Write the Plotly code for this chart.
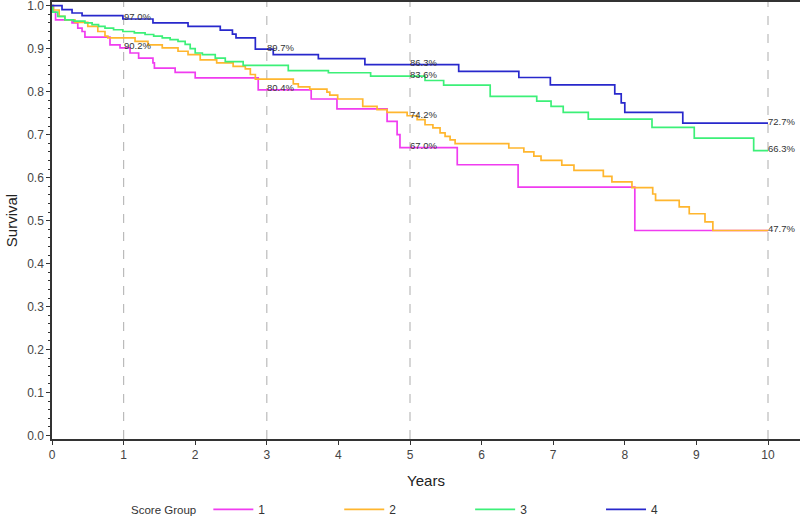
import plotly.graph_objects as go

# ---- data ----
groups = ["1", "2", "3", "4"]
colors = ["#F03CF0", "#FFB62E", "#3CF078", "#2828CC"]

g1_t = [0, 0.02, 0.05, 0.28, 0.36, 0.42, 0.46, 0.81, 0.95, 1.09, 1.21, 1.41, 1.43, 1.72, 2.0, 2.88,
        3.62, 3.98, 4.68, 4.82, 4.86, 5.66, 6.51, 8.14, 10.0]
g1_s = [1.0, 0.985, 0.967, 0.96, 0.948, 0.94, 0.927, 0.909, 0.902, 0.89, 0.878, 0.867, 0.855, 0.845, 0.832, 0.804,
        0.783, 0.76, 0.731, 0.70, 0.670, 0.63, 0.578, 0.477, 0.477]

g2_t = [0, 0.02, 0.1, 0.18, 0.32, 0.5, 0.64, 0.74, 0.78, 1.16, 1.34, 1.54, 1.76, 1.9, 2.07, 2.3, 2.53, 2.7,
        2.77, 2.84, 3.37, 3.44, 3.6, 3.84, 3.88, 3.99, 4.34, 4.54, 4.68, 4.96, 5.1, 5.21, 5.32, 5.42, 5.49,
        5.56, 5.63, 6.38, 6.59, 6.73, 6.83, 7.12, 7.29, 7.7, 7.82, 8.1, 8.39, 8.43, 8.76, 8.9, 9.12, 9.23, 10.0]
g2_s = [1.0, 0.99, 0.975, 0.967, 0.961, 0.952, 0.94, 0.929, 0.925, 0.917, 0.909, 0.902, 0.894, 0.886, 0.874,
        0.867, 0.859, 0.853, 0.84, 0.829, 0.818, 0.811, 0.806, 0.799, 0.792, 0.783, 0.766, 0.758, 0.752, 0.744,
        0.735, 0.723, 0.716, 0.704, 0.696, 0.688, 0.679, 0.669, 0.66, 0.65, 0.64, 0.629, 0.617, 0.603, 0.59,
        0.577, 0.562, 0.547, 0.532, 0.516, 0.497, 0.477, 0.477]

g3_t = [0, 0.01, 0.08, 0.18, 0.3, 0.46, 0.56, 0.65, 0.74, 0.86, 0.99, 1.15, 1.3, 1.42, 1.54, 1.65, 1.76, 1.86,
        1.93, 2.0, 2.1, 2.28, 2.42, 2.67, 3.3, 3.86, 4.45, 5.21, 5.47, 6.12, 6.77, 6.97, 7.14, 7.49, 8.38, 8.97,
        9.8, 10.0]
g3_s = [1.0, 0.985, 0.975, 0.967, 0.964, 0.96, 0.956, 0.952, 0.948, 0.944, 0.94, 0.937, 0.933, 0.929, 0.925,
        0.921, 0.917, 0.91, 0.9, 0.89, 0.886, 0.878, 0.87, 0.861, 0.849, 0.844, 0.836, 0.826, 0.815, 0.789,
        0.778, 0.766, 0.752, 0.736, 0.717, 0.692, 0.663, 0.663]

g4_t = [0, 0.14, 0.28, 0.42, 0.99, 1.41, 1.9, 2.35, 2.52, 2.57, 2.84, 3.09, 3.72, 4.37, 5.68, 6.52, 6.96,
        7.86, 7.95, 8.0, 8.81, 10.0]
g4_s = [1.0, 0.991, 0.983, 0.977, 0.969, 0.96, 0.952, 0.943, 0.934, 0.925, 0.899, 0.886, 0.877, 0.863,
        0.847, 0.833, 0.816, 0.795, 0.774, 0.752, 0.727, 0.727]

series_t = [g1_t, g2_t, g3_t, g4_t]
series_s = [g1_s, g2_s, g3_s, g4_s]

# landmark labels
label_t = [1, 3, 5, 10, 1, 3, 5, 10, 5, 10, 5]
label_v = [0.970, 0.897, 0.863, 0.727, 0.902, 0.804, 0.670, 0.477, 0.836, 0.663, 0.742]

legend_title = "Score Group"
ref_years = [1, 3, 5, 10]
x_ticks = list(range(0, 11))
y_ticks = [round(i * 0.1, 1) for i in range(0, 11)]

FONT = "Liberation Sans, Arial, sans-serif"

fig = go.Figure()
for name, col, t, s in zip(groups, colors, series_t, series_s):
    fig.add_trace(go.Scatter(x=t, y=s, mode="lines", name=name,
                             line=dict(color=col, width=1.7, shape="hv")))

for yr in ref_years:
    fig.add_shape(type="line", x0=yr, x1=yr, y0=0, y1=1, xref="x", yref="paper",
                  line=dict(color="#BBBBBB", width=1.2, dash="dash"), layer="below")

for t, v in zip(label_t, label_v):
    fig.add_annotation(x=t, y=v, text=f"{v*100:.1f}%", showarrow=False, xanchor="left",
                       yanchor="middle", xshift=-2, yshift=2,
                       font=dict(size=9.5, color="#333333", family=FONT))

# legend title placed beside the horizontal legend row
fig.add_annotation(x=0.103, y=-0.162, xref="paper", yref="paper", text=legend_title,
                   showarrow=False, xanchor="left", yanchor="middle",
                   font=dict(size=11.5, color="#333333", family=FONT))

fig.update_layout(
    width=800, height=525,
    margin=dict(l=52, r=0, t=2, b=86, autoexpand=False),
    paper_bgcolor="white", plot_bgcolor="white",
    font=dict(family=FONT, color="#333333"),
    showlegend=True,
    legend=dict(orientation="h", x=0.209, y=-0.161, xanchor="left", yanchor="middle",
                font=dict(size=12), entrywidth=0.175, entrywidthmode="fraction", itemwidth=40),
    xaxis=dict(range=[0, 10.447], tickvals=x_ticks, ticks="outside", ticklen=4, tickwidth=1,
               tickcolor="#333333", showline=True, linecolor="#333333", linewidth=1.5,
               mirror=True, showgrid=False, zeroline=False, automargin=False,
               tickfont=dict(size=12, color="#444444"),
               title=dict(text="Years", font=dict(size=15, color="#222222"), standoff=14)),
    yaxis=dict(range=[-0.008, 1.0086], tickvals=y_ticks, tickformat=".1f", ticks="outside",
               ticklen=4, tickwidth=1, tickcolor="#333333", showline=True, linecolor="#333333",
               linewidth=1.5, showgrid=False, zeroline=False, automargin=False,
               ticklabeloverflow="allow",
               minor=dict(dtick=0.02, ticks="outside", ticklen=2, tickcolor="#333333"),
               tickfont=dict(size=12, color="#444444"),
               title=dict(text="Survival", font=dict(size=15, color="#222222"), standoff=6)),
)

fig.write_html("out.html", config={"displayModeBar": False},
               post_script="document.body.style.margin='0';")
